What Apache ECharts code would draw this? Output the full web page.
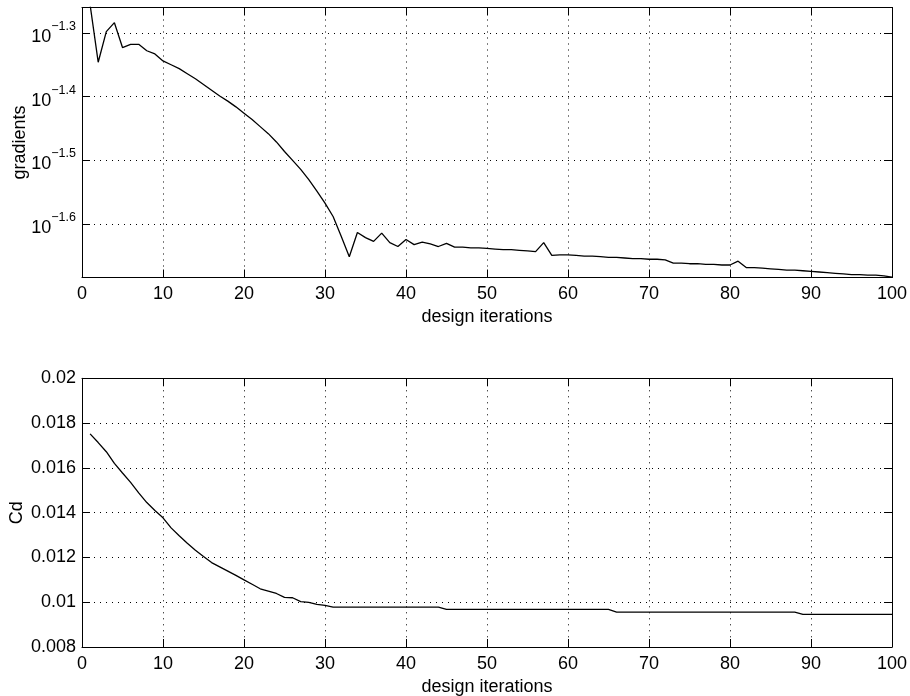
<!DOCTYPE html>
<html><head><meta charset="utf-8">
<script src="https://cdn.jsdelivr.net/npm/echarts@6/dist/echarts.min.js"></script>
<style>html,body{margin:0;padding:0;background:#fff}#c{width:910px;height:696px}</style>
</head><body><div id="c"></div>
<script>
// design iterations (x positions)
const iterations = Array.from({length: 100}, (_, i) => i + 1);

// log10 of the gradient norm
const gradientsLog10 = [
  -1.256, -1.346, -1.298, -1.284, -1.323, -1.318, -1.318, -1.328, -1.333, -1.344,
  -1.350, -1.356, -1.364, -1.372, -1.381, -1.390, -1.399, -1.407, -1.416, -1.426,
  -1.436, -1.447, -1.458, -1.471, -1.486, -1.500, -1.514, -1.530, -1.548, -1.567,
  -1.588, -1.619, -1.651, -1.613, -1.621, -1.627, -1.614, -1.629, -1.635, -1.624,
  -1.632, -1.628, -1.631, -1.635, -1.630, -1.636, -1.636, -1.637, -1.637, -1.638,
  -1.639, -1.640, -1.640, -1.641, -1.642, -1.643, -1.629, -1.649, -1.648, -1.648,
  -1.649, -1.650, -1.650, -1.651, -1.652, -1.652, -1.653, -1.654, -1.654, -1.655,
  -1.655, -1.656, -1.661, -1.661, -1.662, -1.662, -1.663, -1.663, -1.664, -1.664,
  -1.658, -1.668, -1.668, -1.669, -1.670, -1.671, -1.672, -1.672, -1.673, -1.674,
  -1.675, -1.676, -1.677, -1.678, -1.679, -1.679, -1.680, -1.680, -1.681, -1.683
];

// drag coefficient Cd
const cdValues = [
  0.01752, 0.01713, 0.01672, 0.01620, 0.01577, 0.01535, 0.01488, 0.01445, 0.01410, 0.01377,
  0.01332, 0.01297, 0.01263, 0.01232, 0.01204, 0.01177, 0.01158, 0.01139, 0.01120, 0.01100,
  0.01080, 0.01060, 0.01050, 0.01039, 0.01022, 0.01020, 0.01003, 0.00999, 0.00990, 0.00986,
  0.00978, 0.00978, 0.00978, 0.00978, 0.00978, 0.00978, 0.00978, 0.00978, 0.00978, 0.00978,
  0.00978, 0.00978, 0.00978, 0.00978, 0.00968, 0.00968, 0.00968, 0.00968, 0.00968, 0.00968,
  0.00968, 0.00968, 0.00968, 0.00968, 0.00968, 0.00968, 0.00968, 0.00968, 0.00968, 0.00968,
  0.00968, 0.00968, 0.00968, 0.00968, 0.00968, 0.00956, 0.00956, 0.00956, 0.00956, 0.00956,
  0.00956, 0.00956, 0.00956, 0.00956, 0.00956, 0.00956, 0.00956, 0.00956, 0.00956, 0.00956,
  0.00956, 0.00956, 0.00956, 0.00956, 0.00956, 0.00956, 0.00956, 0.00956, 0.00946, 0.00946,
  0.00946, 0.00946, 0.00946, 0.00946, 0.00946, 0.00946, 0.00946, 0.00946, 0.00946, 0.00946
];

// tick labels
const xTickLabels = ['0', '10', '20', '30', '40', '50', '60', '70', '80', '90', '100'];
const gradTickExponents = [-1.3, -1.4, -1.5, -1.6];
const cdTickLabels = ['0.008', '0.01', '0.012', '0.014', '0.016', '0.018', '0.02'];

const FONT = "'Liberation Sans', Arial, Helvetica, sans-serif";
const TICK_FS = 18;
const NAME_FS = 18;

const gradData = iterations.map((x, i) => [x, gradientsLog10[i]]);
const cdData = iterations.map((x, i) => [x, cdValues[i]]);

const gridLine = {show: true, lineStyle: {color: '#000', width: 1, type: [1, 5]}};
const axisLine = {show: true, onZero: false, lineStyle: {color: '#000', width: 1}};
const tickIn = {show: true, inside: true, length: 8, lineStyle: {color: '#000', width: 1}};

function xMain(gridIndex) {
  return {
    type: 'value', gridIndex, position: 'bottom', min: 0, max: 100, interval: 10,
    name: 'design iterations', nameLocation: 'middle', nameGap: 31, nameMoveOverlap: false,
    nameTextStyle: {fontSize: NAME_FS, fontFamily: FONT, color: '#000'},
    axisLine, axisTick: tickIn, splitLine: gridLine,
    axisLabel: {
      fontSize: TICK_FS, fontFamily: FONT, color: '#000', margin: 8,
      formatter: v => { const s = String(Math.round(v)); return xTickLabels.includes(s) ? s : ''; }
    }
  };
}
function xMirror(gridIndex) {
  return {
    type: 'value', gridIndex, position: 'top', min: 0, max: 100, interval: 10,
    axisLine, axisTick: tickIn, splitLine: {show: false}, axisLabel: {show: false}
  };
}

const gradMin = -1.6836, gradMax = -1.2602;

const option = {
  animation: false,
  backgroundColor: '#fff',
  grid: [
    {left: 82, top: 7.5, width: 810, height: 270, containLabel: false, outerBoundsMode: 'none'},
    {left: 82, top: 378.3, width: 810, height: 268.7, containLabel: false, outerBoundsMode: 'none'}
  ],
  xAxis: [xMain(0), xMirror(0), xMain(1), xMirror(1)],
  yAxis: [
    {
      type: 'value', gridIndex: 0, position: 'left', min: gradMin, max: gradMax, splitNumber: 4,
      name: 'gradients', nameLocation: 'middle', nameGap: 53, nameMoveOverlap: false,
      nameTextStyle: {fontSize: NAME_FS, fontFamily: FONT, color: '#000'},
      axisLine, axisTick: tickIn, splitLine: gridLine,
      axisLabel: {
        margin: 6, fontFamily: FONT, color: '#000',
        formatter: v => {
          const e = gradTickExponents.find(t => Math.abs(t - v) < 1e-6);
          if (e === undefined) return '';
          return '{b|10}{s|\u2212' + Math.abs(e).toFixed(1) + '}';
        },
        rich: {
          b: {fontSize: TICK_FS, fontFamily: FONT, color: '#000', lineHeight: 26, verticalAlign: 'bottom'},
          s: {fontSize: 12.5, fontFamily: FONT, color: '#000', lineHeight: 13, verticalAlign: 'top'}
        }
      }
    },
    {
      type: 'value', gridIndex: 0, position: 'right', min: gradMin, max: gradMax, splitNumber: 4,
      axisLine, axisTick: tickIn, splitLine: {show: false}, axisLabel: {show: false}
    },
    {
      type: 'value', gridIndex: 1, position: 'left', min: 0.008, max: 0.02, interval: 0.002,
      name: 'Cd', nameLocation: 'middle', nameGap: 56, nameMoveOverlap: false,
      nameTextStyle: {fontSize: NAME_FS, fontFamily: FONT, color: '#000'},
      axisLine, axisTick: tickIn, splitLine: gridLine,
      axisLabel: {
        margin: 6, fontSize: TICK_FS, fontFamily: FONT, color: '#000',
        formatter: v => {
          const s = cdTickLabels.find(t => Math.abs(parseFloat(t) - v) < 1e-9);
          return s === undefined ? '' : s;
        }
      }
    },
    {
      type: 'value', gridIndex: 1, position: 'right', min: 0.008, max: 0.02, interval: 0.002,
      axisLine, axisTick: tickIn, splitLine: {show: false}, axisLabel: {show: false}
    }
  ],
  series: [
    {
      type: 'line', xAxisIndex: 0, yAxisIndex: 0, data: gradData, showSymbol: false, clip: true,
      lineStyle: {color: '#000', width: 1.3}, emphasis: {disabled: true}
    },
    {
      type: 'line', xAxisIndex: 2, yAxisIndex: 2, data: cdData, showSymbol: false, clip: true,
      lineStyle: {color: '#000', width: 1.3}, emphasis: {disabled: true}
    }
  ]
};

const chart = echarts.init(document.getElementById('c'), null, {renderer: 'canvas'});
chart.setOption(option);
</script>
</body></html>
